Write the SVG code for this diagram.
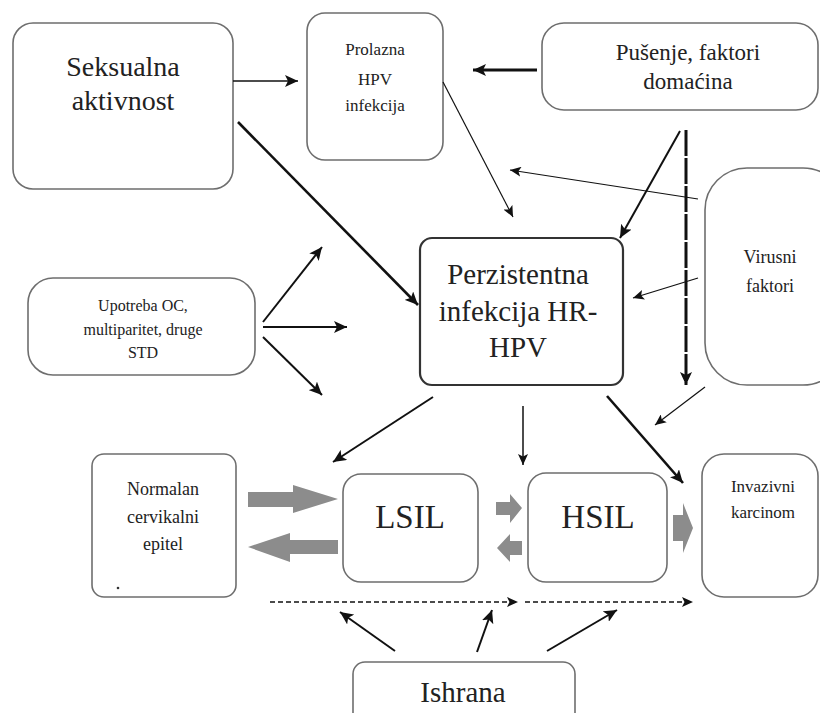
<svg xmlns="http://www.w3.org/2000/svg" width="820" height="713" viewBox="0 0 820 713">
<defs>
<marker id="ah" markerUnits="userSpaceOnUse" markerWidth="14" markerHeight="12" refX="13" refY="6" orient="auto">
<path d="M0,0 L13,6 L0,12 L3,6 z" fill="#111"/>
</marker>
<marker id="ahs" markerUnits="userSpaceOnUse" markerWidth="12" markerHeight="10" refX="11" refY="5" orient="auto">
<path d="M0,0 L11,5 L0,10 L2.5,5 z" fill="#111"/>
</marker>
</defs>
<rect width="820" height="713" fill="#fff"/>
<g fill="#fff" stroke="#6e6e6e" stroke-width="1.6">
<g id="seksualna"><rect x="13" y="23" width="220" height="166" rx="20"/></g>
<g id="prolazna"><rect x="307" y="13" width="136" height="147" rx="18"/></g>
<g id="pusenje"><rect x="542" y="23" width="276" height="87" rx="22"/></g>
<g id="virusni"><rect x="705" y="168" width="140" height="217" rx="42"/></g>
<g id="perzistentna"><rect x="420" y="238" width="203" height="147" rx="12" stroke="#333" stroke-width="2.2"/></g>
<g id="upotreba"><rect x="28" y="278" width="227" height="97" rx="25"/></g>
<g id="normalan"><rect x="92" y="454" width="144" height="143" rx="12"/><circle cx="118" cy="588" r="1.3" fill="#333" stroke="none"/></g>
<g id="lsil"><rect x="343" y="474" width="135" height="108" rx="18"/></g>
<g id="hsil"><rect x="528" y="473" width="139" height="109" rx="18"/></g>
<g id="invazivni"><rect x="702" y="454" width="116" height="143" rx="22"/></g>
<g id="ishrana"><rect x="353" y="662" width="222" height="70" rx="12"/></g>
</g>
<g id="labels">
<text x="123" y="76" font-size="28" font-family="serif" text-anchor="middle" fill="#222">Seksualna</text>
<text x="123" y="110" font-size="28" font-family="serif" text-anchor="middle" fill="#222">aktivnost</text>
<text x="375" y="55" font-size="17" font-family="serif" text-anchor="middle" fill="#222">Prolazna</text>
<text x="375" y="85" font-size="17" font-family="serif" text-anchor="middle" fill="#222">HPV</text>
<text x="375" y="111" font-size="17" font-family="serif" text-anchor="middle" fill="#222">infekcija</text>
<text x="688" y="60" font-size="23" font-family="serif" text-anchor="middle" fill="#222">Pušenje, faktori</text>
<text x="688" y="89" font-size="23" font-family="serif" text-anchor="middle" fill="#222">domaćina</text>
<text x="770" y="263" font-size="18" font-family="serif" text-anchor="middle" fill="#222">Virusni</text>
<text x="770" y="292" font-size="18" font-family="serif" text-anchor="middle" fill="#222">faktori</text>
<text x="518" y="284" font-size="29" font-family="serif" text-anchor="middle" fill="#222">Perzistentna</text>
<text x="518" y="321" font-size="29" font-family="serif" text-anchor="middle" fill="#222">infekcija HR-</text>
<text x="518" y="357" font-size="29" font-family="serif" text-anchor="middle" fill="#222">HPV</text>
<text x="143" y="311" font-size="16" font-family="serif" text-anchor="middle" fill="#222">Upotreba OC,</text>
<text x="143" y="335" font-size="16" font-family="serif" text-anchor="middle" fill="#222">multiparitet, druge</text>
<text x="143" y="358" font-size="16" font-family="serif" text-anchor="middle" fill="#222">STD</text>
<text x="163" y="495" font-size="18" font-family="serif" text-anchor="middle" fill="#222">Normalan</text>
<text x="163" y="523" font-size="18" font-family="serif" text-anchor="middle" fill="#222">cervikalni</text>
<text x="163" y="550" font-size="18" font-family="serif" text-anchor="middle" fill="#222">epitel</text>
<text x="410" y="528" font-size="33" font-family="serif" text-anchor="middle" fill="#222">LSIL</text>
<text x="598" y="528" font-size="33" font-family="serif" text-anchor="middle" fill="#222">HSIL</text>
<text x="763" y="492" font-size="17" font-family="serif" text-anchor="middle" fill="#222">Invazivni</text>
<text x="763" y="518" font-size="17" font-family="serif" text-anchor="middle" fill="#222">karcinom</text>
<text x="463" y="702" font-size="29" font-family="serif" text-anchor="middle" fill="#222">Ishrana</text>
</g>
<g id="connectors" stroke="#111" fill="none">
<line x1="233" y1="81" x2="298" y2="81" stroke-width="1.6" marker-end="url(#ah)"/>
<line x1="238" y1="122" x2="418" y2="305" stroke-width="2.6" marker-end="url(#ah)"/>
<line x1="537" y1="70" x2="473" y2="70" stroke-width="3" marker-end="url(#ah)"/>
<line x1="443" y1="82" x2="513" y2="217" stroke-width="1.2" marker-end="url(#ahs)"/>
<line x1="680" y1="131" x2="620" y2="238" stroke-width="2" marker-end="url(#ah)"/>
<line x1="686" y1="130" x2="686" y2="385" stroke-width="3" stroke-dasharray="26 2" marker-end="url(#ah)"/>
<line x1="698" y1="199" x2="510" y2="170" stroke-width="1.2" marker-end="url(#ahs)"/>
<line x1="698" y1="278" x2="633" y2="298" stroke-width="1.2" marker-end="url(#ahs)"/>
<line x1="705" y1="387" x2="655" y2="425" stroke-width="1.2" marker-end="url(#ahs)"/>
<line x1="263" y1="322" x2="322" y2="247" stroke-width="2" marker-end="url(#ah)"/>
<line x1="263" y1="327" x2="347" y2="327" stroke-width="2" marker-end="url(#ah)"/>
<line x1="263" y1="337" x2="322" y2="395" stroke-width="2" marker-end="url(#ah)"/>
<line x1="433" y1="397" x2="333" y2="462" stroke-width="2" marker-end="url(#ah)"/>
<line x1="523" y1="406" x2="523" y2="465" stroke-width="1.5" marker-end="url(#ahs)"/>
<line x1="607" y1="396" x2="683" y2="483" stroke-width="2.6" marker-end="url(#ah)"/>
<line x1="270" y1="602" x2="518" y2="602" stroke-width="1.6" stroke-dasharray="5 3" marker-end="url(#ahs)"/>
<line x1="525" y1="602" x2="693" y2="602" stroke-width="1.6" stroke-dasharray="5 3" marker-end="url(#ahs)"/>
<line x1="395" y1="651" x2="340" y2="612" stroke-width="2" marker-end="url(#ah)"/>
<line x1="477" y1="652" x2="492" y2="610" stroke-width="2" marker-end="url(#ah)"/>
<line x1="547" y1="651" x2="617" y2="610" stroke-width="2" marker-end="url(#ah)"/>
<g fill="#8c8c8c" stroke="none">
<path d="M248,492 L293,492 L293,485 L338,499 L293,513 L293,507 L248,507 z"/>
<path d="M338,540 L290,540 L290,533 L248,547 L290,562 L290,554 L338,554 z"/>
<path d="M496,502 L510,502 L510,494 L522,508 L510,523 L510,515 L496,515 z"/>
<path d="M522,541 L510,541 L510,534 L497,548 L510,562 L510,555 L522,555 z"/>
<path d="M673,515 L683,515 L683,503 L693,528 L683,553 L683,541 L673,541 z"/>
</g>
</g>
</svg>
